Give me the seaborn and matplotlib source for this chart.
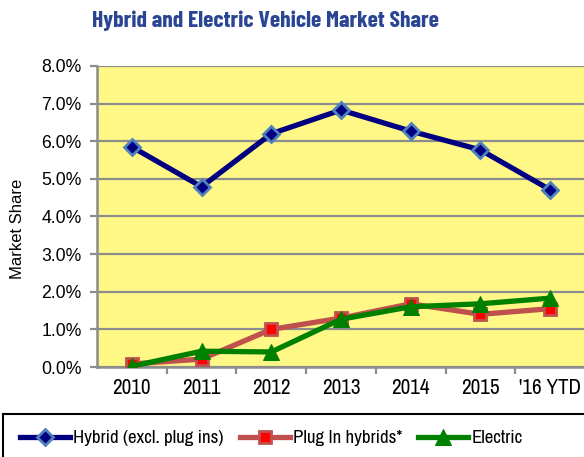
import matplotlib
matplotlib.use("Agg")
import matplotlib.pyplot as plt
import matplotlib.patches as mpatches
from matplotlib import font_manager
from matplotlib.font_manager import FontProperties
from matplotlib.textpath import TextPath
from matplotlib.ticker import FixedLocator, FuncFormatter
import pandas as pd
import seaborn as sns

# Data
years = ["2010", "2011", "2012", "2013", "2014", "2015", "'16 YTD"]
hybrid = [0.0585, 0.0479, 0.0620, 0.0683, 0.0627, 0.0577, 0.0471]
plug_in = [0.0008, 0.0021, 0.0100, 0.0130, 0.0168, 0.0140, 0.0155]
electric = [0.0002, 0.0042, 0.0040, 0.0127, 0.0160, 0.0168, 0.0183]

fonts = font_manager.fontManager.ttflist
installed = {f.name for f in fonts}
bold_ok = {f.name for f in fonts
           if (isinstance(f.weight, int) and f.weight >= 600) or f.weight == "bold"}


def pick_font(candidates, pool, fallback="DejaVu Sans"):
    for name in candidates:
        if name in pool:
            return name
    return fallback


narrow = pick_font(["Liberation Sans Narrow", "Arial Narrow", "Archivo Narrow",
                    "PT Sans Narrow", "Roboto Condensed", "Sofia Sans Condensed",
                    "Open Sans Condensed", "Barlow Semi Condensed",
                    "IBM Plex Sans Condensed", "Encode Sans Condensed"], installed)
title_font = pick_font(["Oswald", "Barlow Condensed", "Sofia Sans Condensed",
                        "Roboto Condensed", "Archivo Narrow", "PT Sans Narrow",
                        narrow], bold_ok, narrow)
arial = pick_font(["Liberation Sans", "Arial"], installed)

df = pd.DataFrame({"year": years, "hybrid": hybrid,
                   "plug_in": plug_in, "electric": electric})

fig = plt.figure(figsize=(5.84, 4.57), dpi=100)
renderer = fig.canvas.get_renderer()


def fit_size(text, target_w, target_cap, family, weight="normal"):
    # font size (pt) so the text spans target_w px and caps stay under target_cap px
    t = fig.text(0, 0, text, fontsize=20, fontfamily=family, fontweight=weight)
    w = t.get_window_extent(renderer).width
    t.remove()
    cap = TextPath((0, 0), "H", size=20,
                   prop=FontProperties(family=family, weight=weight)).get_extents().height
    cap_px = cap * 100 / 72
    return min(20 * target_w / w, 20 * target_cap / cap_px)


title_size = fit_size("Hybrid and Electric Vehicle Market Share", 347, 19,
                      title_font, "bold")
legend_size = fit_size("Hybrid (excl. plug ins)", 150, 14.5, narrow)
xtick_size = fit_size("2010", 41, 14.5, narrow)

ax = fig.add_axes([97 / 584, 90 / 457, 488 / 584, 301 / 457])
ax.set_facecolor("#fff886")

# Series
sns.lineplot(data=df, x="year", y="hybrid", sort=False, ax=ax,
             color="#000080", lw=3.8, marker="D", markersize=8,
             markerfacecolor="#000080", markeredgecolor="#4f81bd",
             markeredgewidth=2, label="Hybrid (excl. plug ins)", zorder=4)
sns.lineplot(data=df, x="year", y="plug_in", sort=False, ax=ax,
             color="#c0504d", lw=3.8, marker="s", markersize=9,
             markerfacecolor="#ff0000", markeredgecolor="#c0504d",
             markeredgewidth=2, label="Plug In hybrids*", zorder=3)
sns.lineplot(data=df, x="year", y="electric", sort=False, ax=ax,
             color="#008000", lw=3.8, marker="^", markersize=11,
             markerfacecolor="#008000", markeredgecolor="#008000",
             label="Electric", zorder=5)

# Axes styling
ax.set_xlim(-0.5, len(years) - 0.5)
ax.set_ylim(0, 0.08)
ax.yaxis.set_major_locator(FixedLocator([i / 100 for i in range(9)]))
ax.yaxis.set_major_formatter(FuncFormatter(lambda v, p: f"{v * 100:.1f}%"))
ax.grid(axis="y", color="#8c8c8c", lw=1.6, zorder=0)
ax.set_axisbelow(True)
for s in ["top", "right"]:
    ax.spines[s].set_visible(False)
for s in ["left", "bottom"]:
    ax.spines[s].set_color("#8c8c8c")
    ax.spines[s].set_linewidth(1.8)

ax.xaxis.set_minor_locator(FixedLocator([i + 0.5 for i in range(len(years) - 1)]))
ax.tick_params(axis="x", which="major", length=0, pad=8)
ax.tick_params(axis="x", which="minor", length=5, width=1.6, color="#8c8c8c")
ax.tick_params(axis="y", length=5, width=1.6, color="#8c8c8c", pad=6)
for t in ax.get_xticklabels():
    t.set_fontfamily(narrow)
    t.set_fontsize(xtick_size)
for t in ax.get_yticklabels():
    t.set_fontfamily(arial)
    t.set_fontsize(12.7)

ax.set_xlabel("")
ax.set_ylabel("Market Share", fontfamily=arial, fontsize=12)
ax.yaxis.set_label_coords(25 / 584, 0.5, transform=fig.transFigure)

fig.text(265 / 584, 1 - 21 / 457, "Hybrid and Electric Vehicle Market Share",
         ha="center", va="center", fontfamily=title_font, fontweight="bold",
         fontsize=title_size, color="#2a4593")

# Legend
px = legend_size * 100 / 72
handles, labels = ax.get_legend_handles_labels()
ax.get_legend().remove()
fig.legend(handles, labels, loc="center left", ncol=3, frameon=False,
           bbox_to_anchor=(11 / 584, 1 - 438 / 457), borderpad=0,
           handlelength=50 / px, handletextpad=3 / px, columnspacing=16 / px,
           prop={"family": narrow, "size": legend_size})
box = mpatches.Rectangle((3 / 584, -0.2), 1.2, 0.2 + (457 - 414) / 457,
                         transform=fig.transFigure, fill=False,
                         edgecolor="black", lw=1.5, clip_on=False)
fig.add_artist(box)

fig.savefig("out.png", dpi=100)
